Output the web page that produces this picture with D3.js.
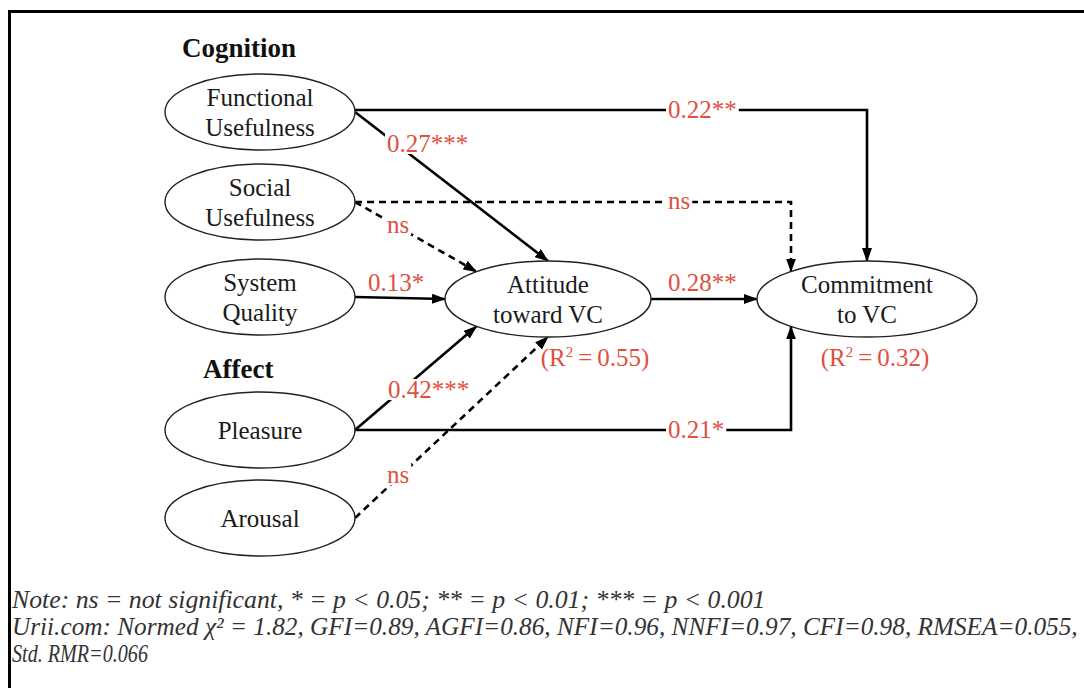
<!DOCTYPE html>
<html>
<head>
<meta charset="utf-8">
<script src="https://cdn.jsdelivr.net/npm/d3@7"></script>
<style>
  body { margin: 0; background: #fff; }
  svg { display: block; }
  text { font-family: "Liberation Serif", "Times New Roman", serif; }
</style>
</head>
<body>
<div id="chart"></div>
<script>
// data
var groupNames = ["Cognition", "Affect"];
var exoNames = ["Functional\nUsefulness", "Social\nUsefulness", "System\nQuality", "Pleasure", "Arousal"];
var exoGroups = ["Cognition", "Cognition", "Cognition", "Affect", "Affect"];
var endoNames = ["Attitude\ntoward VC", "Commitment\nto VC"];
var endoR2 = [0.55, 0.32];
var pathFrom = ["Functional\nUsefulness", "Social\nUsefulness", "System\nQuality", "Pleasure", "Arousal",
                "Attitude\ntoward VC", "Functional\nUsefulness", "Social\nUsefulness", "Pleasure"];
var pathTo = ["Attitude\ntoward VC", "Attitude\ntoward VC", "Attitude\ntoward VC", "Attitude\ntoward VC", "Attitude\ntoward VC",
              "Commitment\nto VC", "Commitment\nto VC", "Commitment\nto VC", "Commitment\nto VC"];
var pathCoef = ["0.27***", "ns", "0.13*", "0.42***", "ns", "0.28**", "0.22**", "ns", "0.21*"];
var noteLines = [
  "Note: ns = not significant, * = p < 0.05; ** = p < 0.01; *** = p < 0.001",
  "Urii.com: Normed \u03c7\u00b2 = 1.82, GFI=0.89, AGFI=0.86, NFI=0.96, NNFI=0.97, CFI=0.98, RMSEA=0.055,",
  "Std. RMR=0.066"
];

// layout
var width = 1084, height = 688;
var red = "#e0503f";

var svg = d3.select("#chart").append("svg")
  .attr("width", width).attr("height", height);

var defs = svg.append("defs");
defs.append("marker")
  .attr("id", "arrow")
  .attr("markerUnits", "userSpaceOnUse")
  .attr("viewBox", "0 0 14 10")
  .attr("refX", 13).attr("refY", 5)
  .attr("markerWidth", 14).attr("markerHeight", 10)
  .attr("orient", "auto")
  .append("path")
  .attr("d", "M0,0 L14,5 L0,10 Z")
  .attr("fill", "#000");

// frame (only top and left edges show)
svg.append("path")
  .attr("d", "M9.5,688 L9.5,11.5 L1084,11.5")
  .attr("fill", "none").attr("stroke", "#000").attr("stroke-width", 3);

// node positions
var yExo = d3.scaleOrdinal().domain(exoNames).range([112, 202, 297, 430, 518]);
var yGroup = d3.scaleOrdinal().domain(groupNames).range([57, 378]);
var nodes = {};
exoNames.forEach(function (n) {
  nodes[n] = { name: n, cx: 260, cy: yExo(n), rx: 95, ry: 38 };
});
var xEndo = d3.scaleOrdinal().domain(endoNames).range([548, 867]);
var rxEndo = d3.scaleOrdinal().domain(endoNames).range([103, 110]);
endoNames.forEach(function (n, i) {
  nodes[n] = { name: n, cx: xEndo(n), cy: 299, rx: rxEndo(n), ry: 38, r2: endoR2[i] };
});

function onEllipse(node, deg) {
  var t = deg * Math.PI / 180;
  return [node.cx + node.rx * Math.cos(t), node.cy + node.ry * Math.sin(t)];
}
function atX(node, x, below) {
  var c = (x - node.cx) / node.rx;
  var s = Math.sqrt(1 - c * c);
  return [x, node.cy + (below ? 1 : -1) * node.ry * s];
}

// route each path: straight (with end angle on target) or elbow (via corner x)
var routes = [
  { end: -90 }, { end: -134 }, { end: 180 }, { end: 134 }, { end: 90 },
  { end: 180 }, { elbowX: 867 }, { elbowX: 791 }, { elbowX: 791, below: true }
];
var labelPos = [
  [387, 152, true], [387, 233, true], [368, 291, false], [388, 398, true], [387, 483, true],
  [668, 291, false], [668, 118, true], [668, 209, true], [668, 438, true]
];

var paths = pathFrom.map(function (f, i) {
  var a = nodes[f], b = nodes[pathTo[i]], r = routes[i];
  var start = [a.cx + a.rx, a.cy];
  var pts;
  if (r.elbowX !== undefined) {
    var y0 = f === "Functional\nUsefulness" ? 110 : a.cy;
    start = [a.cx + a.rx, y0];
    pts = [start, [r.elbowX, y0], atX(b, r.elbowX, r.below)];
  } else {
    pts = [start, onEllipse(b, r.end)];
  }
  return {
    pts: pts,
    coef: pathCoef[i],
    dashed: pathCoef[i] === "ns",
    lx: labelPos[i][0], ly: labelPos[i][1], boxed: labelPos[i][2]
  };
});

var line = d3.line();

var pathG = svg.append("g");
pathG.selectAll("path.link")
  .data(paths)
  .enter()
  .append("path")
  .attr("class", "link")
  .attr("d", function (d) { return line(d.pts); })
  .attr("fill", "none")
  .attr("stroke", "#000")
  .attr("stroke-width", 2.6)
  .attr("stroke-dasharray", function (d) { return d.dashed ? "7,5" : null; })
  .attr("marker-end", "url(#arrow)");

// labels (white box hides the line under it)
var labG = svg.selectAll(".lab")
  .data(paths)
  .enter()
  .append("g")
  .attr("class", "lab");

labG.append("text")
  .attr("x", function (d) { return d.lx; })
  .attr("y", function (d) { return d.ly; })
  .attr("font-size", 25)
  .attr("fill", red)
  .text(function (d) { return d.coef; });

labG.each(function (d) {
  if (!d.boxed) return;
  var g = d3.select(this);
  var bb = g.select("text").node().getBBox();
  g.insert("rect", "text")
    .attr("x", bb.x - 2).attr("y", bb.y + 3)
    .attr("width", bb.width + 4).attr("height", bb.height - 6)
    .attr("fill", "#fff");
});

// ellipses
var nodeG = svg.selectAll(".node")
  .data(Object.values(nodes))
  .enter()
  .append("g")
  .attr("class", "node");

nodeG.append("ellipse")
  .attr("cx", function (d) { return d.cx; })
  .attr("cy", function (d) { return d.cy; })
  .attr("rx", function (d) { return d.rx; })
  .attr("ry", function (d) { return d.ry; })
  .attr("fill", "#fff")
  .attr("stroke", "#222")
  .attr("stroke-width", 1.4);

nodeG.each(function (d) {
  var lines = d.name.split("\n");
  var t = d3.select(this).append("text")
    .attr("text-anchor", "middle")
    .attr("font-size", 25)
    .attr("fill", "#1a1a1a");
  lines.forEach(function (l, i) {
    t.append("tspan")
      .attr("x", d.cx)
      .attr("y", lines.length === 1 ? d.cy + 9 : d.cy - 6 + i * 30)
      .text(l);
  });
});

// R² labels
endoNames.forEach(function (n) {
  var d = nodes[n];
  var t = svg.append("text")
    .attr("x", d.cx + (n === "Attitude\ntoward VC" ? 47 : 8))
    .attr("y", 366)
    .attr("text-anchor", "middle")
    .attr("font-size", 25)
    .attr("fill", red);
  t.append("tspan").text("(R");
  t.append("tspan").attr("font-size", 15).attr("dy", -9).text("2");
  t.append("tspan").attr("dy", 9).text("\u2009=\u2009" + d3.format(".2f")(d.r2) + ")");
});

// group headings
svg.selectAll(".grp")
  .data(groupNames)
  .enter()
  .append("text")
  .attr("class", "grp")
  .attr("x", function (d) { return d === "Cognition" ? 182 : 203; })
  .attr("y", function (d) { return yGroup(d); })
  .attr("font-size", 27)
  .attr("font-weight", "bold")
  .attr("fill", "#111")
  .text(function (d) { return d; });

// note (condensed italic, like the source): squeeze horizontally only
var noteW = [754, 1066, 136];
svg.selectAll(".note")
  .data(noteLines)
  .enter()
  .append("text")
  .attr("class", "note")
  .style("font-size", "25px")
  .style("font-style", "italic")
  .attr("fill", "#333")
  .text(function (d) { return d; })
  .attr("transform", function (d, i) {
    var w = this.getComputedTextLength();
    return "translate(12," + (608 + i * 27) + ") scale(" + (noteW[i] / w) + ",1)";
  });
</script>
</body>
</html>
